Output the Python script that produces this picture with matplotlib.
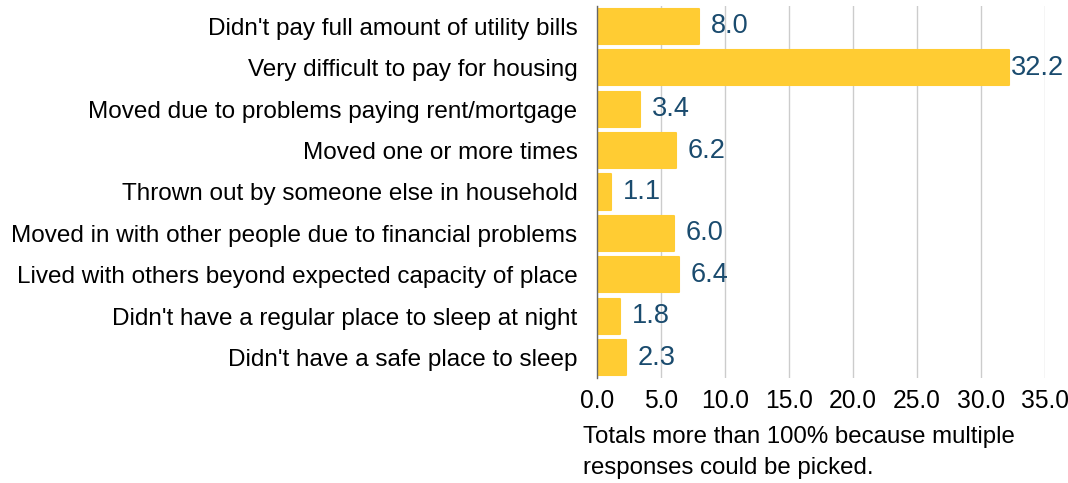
import matplotlib.pyplot as plt

plt.rcParams['font.family'] = ['Liberation Sans', 'DejaVu Sans']

categories = [
    "Didn't pay full amount of utility bills",
    "Very difficult to pay for housing",
    "Moved due to problems paying rent/mortgage",
    "Moved one or more times",
    "Thrown out by someone else in household",
    "Moved in with other people due to financial problems",
    "Lived with others beyond expected capacity of place",
    "Didn't have a regular place to sleep at night",
    "Didn't have a safe place to sleep",
]
values = [8.0, 32.2, 3.4, 6.2, 1.1, 6.0, 6.4, 1.8, 2.3]
xticks = [0, 5, 10, 15, 20, 25, 30, 35]
note = "Totals more than 100% because multiple\nresponses could be picked."

fig = plt.figure(figsize=(10.68, 4.83), dpi=100)
ax = fig.add_axes([0.559, 0.217, 0.419, 0.771])

ypos = list(range(len(categories)))
ax.barh(ypos, values, height=0.85, color='#FFCC33', edgecolor='#FFCC33',
        linewidth=1.5, joinstyle='round', zorder=2)
for y, v in zip(ypos, values):
    # keep the label inside the figure, like the original does for the long bar
    x = min(v + 0.9, 32.4)
    ax.text(x, y, f"{v:.1f}", va='center', ha='left',
            fontsize=19.5, color='#1A4B6E', zorder=3)

ax.set_yticks(ypos)
ax.set_yticklabels(categories, fontsize=17.5)
ax.set_ylim(len(categories) - 0.5, -0.5)
ax.set_xlim(0, 35)
ax.set_xticks(xticks)
ax.set_xticklabels([f"{t:.1f}" for t in xticks], fontsize=17.7)
ax.tick_params(axis='y', length=0, pad=14)
ax.tick_params(axis='x', length=0, pad=8)
ax.grid(axis='x', color='#CCCCCC', linewidth=1, zorder=0)
for s in ['top', 'right', 'bottom']:
    ax.spines[s].set_visible(False)
ax.spines['left'].set_color('#666666')
ax.spines['left'].set_linewidth(1)

fig.text(583 / 1068, 1 - 426 / 483, note, fontsize=17.3, va='top', ha='left',
         linespacing=1.55)

fig.savefig('out.png', dpi=100)
